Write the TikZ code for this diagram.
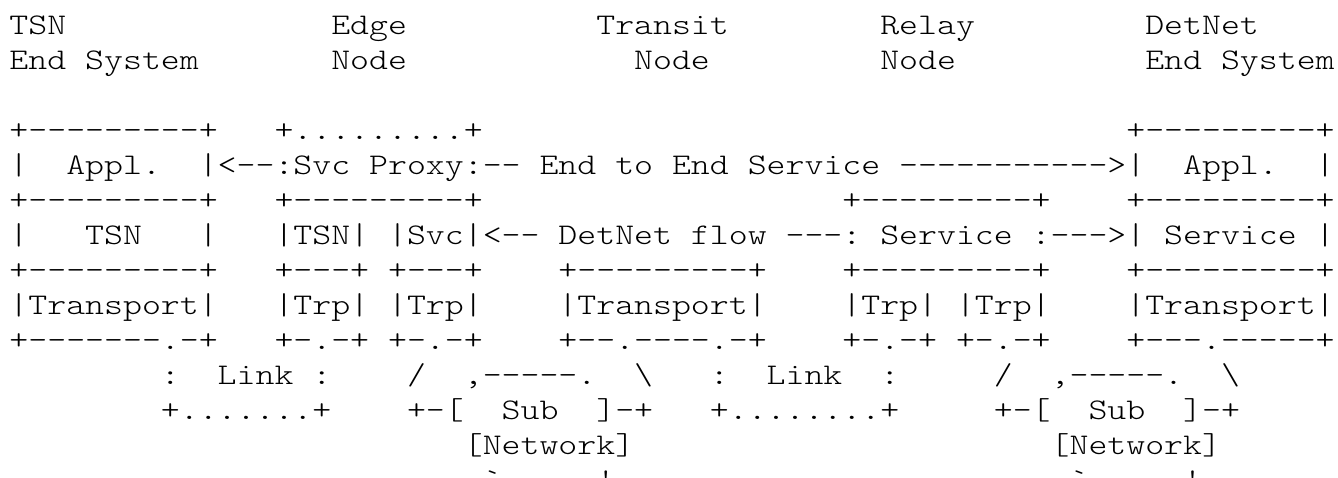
\documentclass[tikz,border=0pt]{standalone}
\usepackage{fontspec}
\setmonofont[Extension=.otf,FakeStretch=1.2019]{lmmonolt10-regular}

\begin{document}
\begin{tikzpicture}
[x=9.465pt, y=-17.5pt,
  asciidecorate/.style={font=\ttfamily\fontsize{15pt}{17.5pt}\selectfont,
    inner sep=0pt, outer sep=0pt, anchor=base west}]
\useasboundingbox (-4.75pt,17pt) rectangle (664.25pt,-221.5pt);
%% node titles
\foreach \col/\row/\text in {
  0/0/TSN, 17/0/Edge, 31/0/Transit, 46/0/Relay, 60/0/DetNet,
  0/1/End, 4/1/System, 17/1/Node, 33/1/Node, 46/1/Node, 60/1/End, 64/1/System}
{
  \node (r\row-\col) at (\col,\row) [asciidecorate] {\text};
}
%% application and service layers
\foreach \col/\row/\text in {
  0/3/{+---------+}, 14/3/{+.........+}, 59/3/{+---------+},
  0/4/{|}, 3/4/{Appl.}, 10/4/{|<--:Svc}, 19/4/{Proxy:--}, 28/4/End, 32/4/to,
  35/4/End, 39/4/Service, 47/4/{----------->|}, 62/4/{Appl.}, 69/4/{|},
  0/5/{+---------+}, 14/5/{+---------+}, 44/5/{+---------+}, 59/5/{+---------+},
  0/6/{|}, 4/6/TSN, 10/6/{|}, 14/6/{|TSN|}, 20/6/{|Svc|<--}, 29/6/DetNet,
  36/6/flow, 41/6/{---:}, 46/6/Service, 54/6/{:--->|}, 61/6/Service, 69/6/{|}}
{
  \node (r\row-\col) at (\col,\row) [asciidecorate] {\text};
}
%% transport layer
\foreach \col/\row/\text in {
  0/7/{+---------+}, 14/7/{+---+}, 20/7/{+---+}, 29/7/{+---------+},
  44/7/{+---------+}, 59/7/{+---------+},
  0/8/{|Transport|}, 14/8/{|Trp|}, 20/8/{|Trp|}, 29/8/{|Transport|},
  44/8/{|Trp|}, 50/8/{|Trp|}, 59/8/{|Transport|},
  0/9/{+-------.-+}, 14/9/{+-.-+}, 20/9/{+-.-+}, 29/9/{+--.----.-+},
  44/9/{+-.-+}, 50/9/{+-.-+}, 59/9/{+---.-----+}}
{
  \node (r\row-\col) at (\col,\row) [asciidecorate] {\text};
}
%% links and sub networks
\foreach \col/\row/\text in {
  8/10/{:}, 11/10/Link, 16/10/{:}, 21/10/{/}, 24/10/{,-----.}, 33/10/{\textbackslash},
  37/10/{:}, 40/10/Link, 46/10/{:}, 52/10/{/}, 55/10/{,-----.}, 64/10/{\textbackslash},
  8/11/{+.......+}, 21/11/{+-[}, 26/11/Sub, 31/11/{]-+},
  37/11/{+........+}, 52/11/{+-[}, 57/11/Sub, 62/11/{]-+},
  24/12/{[Network]}, 55/12/{[Network]},
  25/13/{`-----'}, 56/13/{`-----'}}
{
  \node (r\row-\col) at (\col,\row) [asciidecorate] {\text};
}
\end{tikzpicture}
\end{document}
